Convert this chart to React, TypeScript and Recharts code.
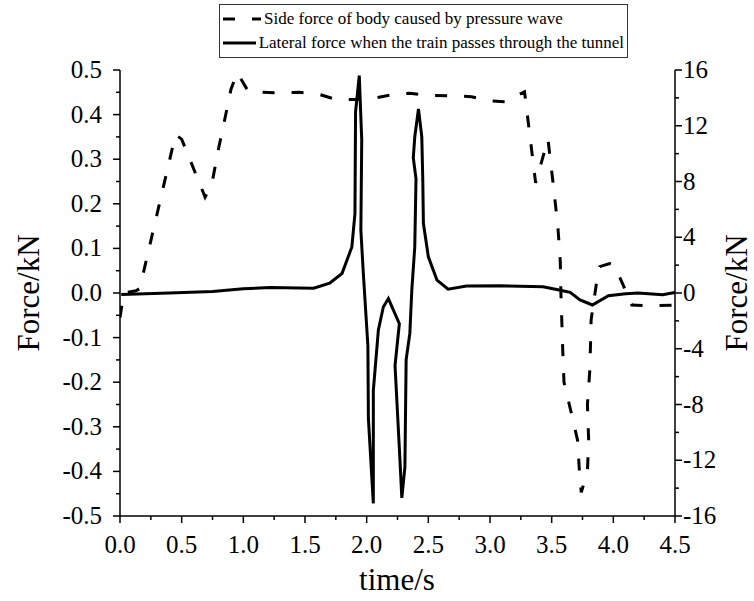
import React from 'react';
import { LineChart, Line, XAxis, YAxis, Legend, Label } from 'recharts';

const dashedTime = [0.0, 0.03, 0.13, 0.16, 0.45, 0.5, 0.69, 0.745, 0.8, 0.85, 0.9, 0.95, 1.04, 1.25, 1.45, 1.62, 1.75, 2.0, 2.2, 2.35, 2.5, 2.75, 2.85, 3.0, 3.12, 3.28, 3.37, 3.47, 3.51, 3.55, 3.57, 3.575, 3.59, 3.6, 3.66, 3.71, 3.725, 3.74, 3.79, 3.8, 3.79, 3.81, 3.82, 3.87, 3.89, 3.97, 4.01, 4.1, 4.15, 4.3, 4.5];
const dashedForce = [-0.055, 0.0, 0.005, 0.01, 0.355, 0.345, 0.215, 0.245, 0.325, 0.39, 0.457, 0.494, 0.452, 0.449, 0.45, 0.445, 0.434, 0.434, 0.444, 0.448, 0.443, 0.442, 0.44, 0.431, 0.429, 0.451, 0.247, 0.345, 0.25, 0.15, 0.07, 0.0, -0.13, -0.2, -0.27, -0.33, -0.4, -0.447, -0.4, -0.33, -0.25, -0.17, -0.06, 0.035, 0.059, 0.066, 0.062, 0.005, -0.027, -0.029, -0.027];

const solidTime = [0.01, 0.4, 0.75, 1.0, 1.22, 1.57, 1.7, 1.8, 1.88, 1.905, 1.91, 1.94, 1.96, 1.953, 1.973, 2.01, 2.014, 2.054, 2.054, 2.095, 2.135, 2.176, 2.265, 2.23, 2.27, 2.285, 2.31, 2.32, 2.35, 2.366, 2.39, 2.4, 2.378, 2.39, 2.42, 2.447, 2.455, 2.46, 2.5, 2.57, 2.66, 2.81, 3.08, 3.43, 3.57, 3.65, 3.73, 3.83, 3.96, 4.1, 4.2, 4.4, 4.5];
const solidForce = [-0.1, 0.0, 0.1, 0.3, 0.4, 0.34, 0.7, 1.4, 3.3, 5.7, 13.0, 15.6, 11.0, 4.5, 1.4, -3.8, -9.0, -15.1, -7.0, -2.65, -1.0, -0.4, -2.2, -5.2, -12.0, -14.7, -12.5, -4.8, -2.9, 0.2, 3.3, 8.2, 9.7, 11.2, 13.2, 11.2, 8.1, 5.0, 2.6, 0.93, 0.27, 0.5, 0.52, 0.45, 0.2, 0.05, -0.5, -0.86, -0.2, -0.05, 0.0, -0.12, 0.03];

const xTicks = [0, 0.25, 0.5, 0.75, 1, 1.25, 1.5, 1.75, 2, 2.25, 2.5, 2.75, 3, 3.25, 3.5, 3.75, 4, 4.25, 4.5];
const leftTicks = [-0.5, -0.45, -0.4, -0.35, -0.3, -0.25, -0.2, -0.15, -0.1, -0.05, 0, 0.05, 0.1, 0.15, 0.2, 0.25, 0.3, 0.35, 0.4, 0.45, 0.5];
const rightTicks = [-16, -14, -12, -10, -8, -6, -4, -2, 0, 2, 4, 6, 8, 10, 12, 14, 16];

const seriesNames = ['Side force of body caused by pressure wave', 'Lateral force when the train passes through the tunnel'];

const FONT = "'Liberation Serif', 'Times New Roman', serif";
const TICK_FS = 25;
const TITLE_FS = 31;
const textStyle = { fontFamily: FONT };

const dashedData = dashedTime.map((t, i) => ({ t, side: dashedForce[i] }));
const solidData = solidTime.map((t, i) => ({ t, lateral: solidForce[i] }));

const isMult = (v: number, step: number) => Math.abs(v / step - Math.round(v / step)) < 1e-6;

function XTick(props: any) {
  const { x, y, payload } = props;
  const v = payload.value;
  const major = isMult(v, 0.5);
  return (
    <g>
      <line x1={x} x2={x} y1={y} y2={y + (major ? 7 : 4)} stroke="#000" strokeWidth={1.5} />
      {major && (
        <text x={x} y={y + 37} textAnchor="middle" fontSize={TICK_FS} style={textStyle} fill="#000">
          {v.toFixed(1)}
        </text>
      )}
    </g>
  );
}

function LeftTick(props: any) {
  const { x, y, payload } = props;
  const v = payload.value;
  const major = isMult(v, 0.1);
  return (
    <g>
      <line x1={x - (major ? 7 : 4)} x2={x} y1={y} y2={y} stroke="#000" strokeWidth={1.5} />
      {major && (
        <text x={x - 18} y={y + 8} textAnchor="end" fontSize={TICK_FS} style={textStyle} fill="#000">
          {v.toFixed(1)}
        </text>
      )}
    </g>
  );
}

function RightTick(props: any) {
  const { x, y, payload } = props;
  const v = payload.value;
  const major = isMult(v, 4);
  return (
    <g>
      <line x1={x} x2={x + (major ? 7 : 4)} y1={y} y2={y} stroke="#000" strokeWidth={1.5} />
      {major && (
        <text x={x + 8} y={y + 8} textAnchor="start" fontSize={TICK_FS} style={textStyle} fill="#000">
          {String(v)}
        </text>
      )}
    </g>
  );
}

function LegendBox() {
  const row = (dashed: boolean, label: string) => (
    <div style={{ display: 'flex', alignItems: 'center', height: 24 }}>
      <svg width={38} height={10} style={{ marginRight: 3 }}>
        <line x1={0} x2={38} y1={5} y2={5} stroke="#000" strokeWidth={3} strokeDasharray={dashed ? '12 17' : undefined} />
      </svg>
      <span>{label}</span>
    </div>
  );
  return (
    <div
      style={{
        border: '1px solid #333',
        background: '#fff',
        fontFamily: FONT,
        fontSize: 17,
        lineHeight: '24px',
        padding: '2px 3px',
        width: 409,
        boxSizing: 'border-box',
        color: '#000',
        whiteSpace: 'nowrap',
      }}
    >
      {row(true, seriesNames[0])}
      {row(false, seriesNames[1])}
    </div>
  );
}

export default function App() {
  return (
    <div style={{ position: 'absolute', left: 0, top: 0, background: '#fff' }}>
      <LineChart width={754} height={601} margin={{ top: 70, right: 0, bottom: 0, left: 0 }}>
        <XAxis
          dataKey="t"
          type="number"
          domain={[0, 4.5]}
          ticks={xTicks}
          interval={0}
          allowDataOverflow
          height={85}
          tickSize={0}
          tickMargin={0}
          tickLine={false}
          tick={<XTick />}
          axisLine={{ stroke: '#000', strokeWidth: 1.5 }}
        >
          <Label
            content={() => (
              <text x={397} y={590} textAnchor="middle" fontSize={TITLE_FS} style={textStyle} fill="#000">
                time/s
              </text>
            )}
          />
        </XAxis>
        <YAxis
          yAxisId="left"
          orientation="left"
          type="number"
          domain={[-0.5, 0.5]}
          ticks={leftTicks}
          interval={0}
          allowDataOverflow
          width={120}
          tickSize={0}
          tickMargin={0}
          tickLine={false}
          tick={<LeftTick />}
          axisLine={{ stroke: '#000', strokeWidth: 1.5 }}
        >
          <Label
            content={() => (
              <text x={39} y={293} transform="rotate(-90 39 293)" textAnchor="middle" fontSize={TITLE_FS} style={textStyle} fill="#000">
                Force/kN
              </text>
            )}
          />
        </YAxis>
        <YAxis
          yAxisId="right"
          orientation="right"
          type="number"
          domain={[-16, 16]}
          ticks={rightTicks}
          interval={0}
          allowDataOverflow
          width={79}
          tickSize={0}
          tickMargin={0}
          tickLine={false}
          tick={<RightTick />}
          axisLine={{ stroke: '#000', strokeWidth: 1.5 }}
        >
          <Label
            content={() => (
              <text x={747} y={293} transform="rotate(-90 747 293)" textAnchor="middle" fontSize={TITLE_FS} style={textStyle} fill="#000">
                Force/kN
              </text>
            )}
          />
        </YAxis>
        <Legend
          layout="horizontal"
          verticalAlign="middle"
          align="center"
          wrapperStyle={{ top: 4, left: 219, width: 'auto' }}
          content={() => <LegendBox />}
        />
        <Line
          data={dashedData}
          dataKey="side"
          name={seriesNames[0]}
          yAxisId="left"
          type="linear"
          stroke="#000"
          strokeWidth={3}
          strokeDasharray="12 17"
          dot={false}
          activeDot={false}
          isAnimationActive={false}
        />
        <Line
          data={solidData}
          dataKey="lateral"
          name={seriesNames[1]}
          yAxisId="right"
          type="linear"
          stroke="#000"
          strokeWidth={3}
          dot={false}
          activeDot={false}
          isAnimationActive={false}
        />
      </LineChart>
    </div>
  );
}
